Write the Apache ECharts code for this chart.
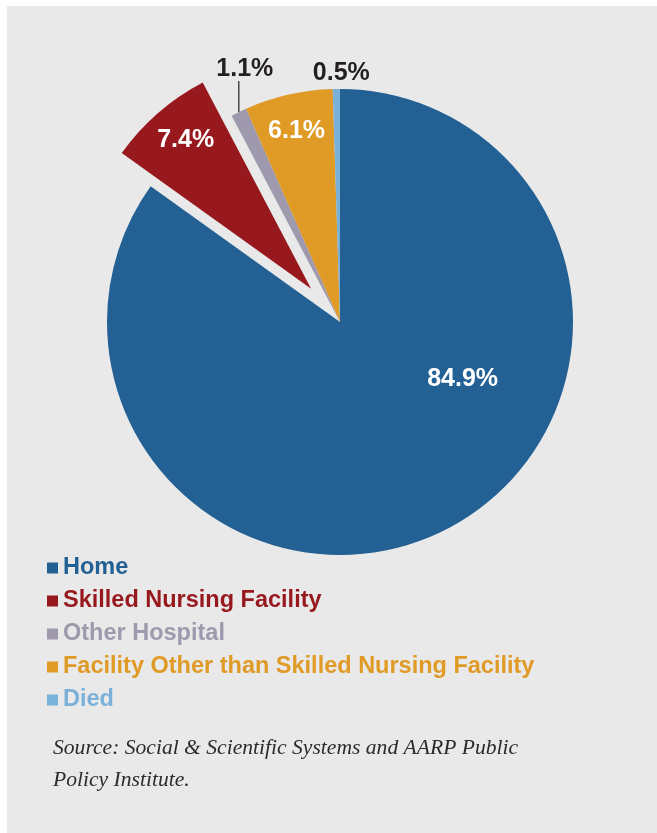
<!DOCTYPE html>
<html>
<head>
<meta charset="utf-8">
<script src="https://cdn.jsdelivr.net/npm/echarts@6/dist/echarts.min.js"></script>
<style>
  html, body { margin: 0; padding: 0; background: #ffffff; }
  #chart { position: absolute; left: 7px; top: 6px; width: 650px; height: 827px; background: #e9e9e9; }
</style>
</head>
<body>
<div id="chart"></div>
<script>
// data, clockwise from 12 o'clock
var categories = ['Home', 'Skilled Nursing Facility', 'Other Hospital', 'Facility Other than Skilled Nursing Facility', 'Died'];
var shares = [84.9, 7.4, 1.1, 6.1, 0.5];
var colors = ['#236093', '#97191e', '#9f99ad', '#e09a26', '#7ab1d8'];
var sourceNote = 'Source: Social & Scientific Systems and AARP Public\nPolicy Institute.';

var chart = echarts.init(document.getElementById('chart'));

// label nudges (px) from the library's default label spot
var labelNudge = [[68, -49], [0, 0], [0, 0], [-17, -74], [0, 0]];

function pct(p) { return p.value.toFixed(1) + '%'; }

var pieData = categories.map(function (name, i) {
  var inside = i !== 2 && i !== 4;
  var lbl = {
    position: inside ? 'inside' : 'outside',
    color: inside ? '#ffffff' : '#231f20'
  };
  // the exploded slice keeps its label on the select state,
  // so push it outward with padding and an empty spacer line
  if (i === 1) {
    lbl.padding = [0, 94, 0, 0];
    lbl.verticalAlign = 'middle';
    lbl.formatter = function (p) { return '{v|' + pct(p) + '}\n{g|}'; };
    lbl.rich = {
      v: { color: '#ffffff', fontFamily: 'Liberation Sans', fontWeight: 'bold', fontSize: 25, lineHeight: 30 },
      g: { height: 118 }
    };
  }
  return {
    name: name,
    value: shares[i],
    selected: i === 1,
    itemStyle: { color: colors[i] },
    label: lbl,
    labelLine: { show: i === 2 }
  };
});

var option = {
  animation: false,
  title: {
    text: sourceNote,
    left: 41,
    top: 721,
    textStyle: {
      fontFamily: 'Liberation Serif',
      fontStyle: 'italic',
      fontWeight: 'normal',
      fontSize: 21.6,
      lineHeight: 32,
      color: '#2b2b2b'
    }
  },
  legend: {
    orient: 'vertical',
    left: 35,
    top: 545,
    icon: 'rect',
    itemWidth: 11,
    itemHeight: 11,
    itemGap: 9,
    selectedMode: false,
    textStyle: {
      fontFamily: 'Liberation Sans',
      fontWeight: 'bold',
      fontSize: 23.5,
      lineHeight: 24
    },
    data: categories.map(function (name, i) {
      return { name: name, textStyle: { color: colors[i] } };
    })
  },
  series: [{
    type: 'pie',
    center: [333, 316],
    radius: [0, 233],
    startAngle: 90,
    clockwise: true,
    selectedMode: 'single',
    selectedOffset: 44,
    silent: true,
    avoidLabelOverlap: false,
    label: {
      show: true,
      formatter: pct,
      fontFamily: 'Liberation Sans',
      fontWeight: 'bold',
      fontSize: 25
    },
    labelLine: {
      length: 15,
      length2: 0,
      lineStyle: { color: '#231f20', width: 1.2 }
    },
    labelLayout: function (p) {
      var i = p.dataIndex;
      if (i === 1) return {};
      if (i === 2) {
        var a = p.labelLinePoints[0];
        return {
          x: a[0] + 6, y: a[1] - 43, align: 'center', verticalAlign: 'middle',
          labelLinePoints: [[a[0], a[1]], [a[0], a[1] - 15], [a[0], a[1] - 31]]
        };
      }
      if (i === 4) {
        return {
          x: p.rect.x + p.rect.width / 2 + 5, y: p.rect.y - 16,
          align: 'center', verticalAlign: 'middle'
        };
      }
      var n = labelNudge[i];
      return {
        x: p.labelRect.x + p.labelRect.width / 2 + n[0],
        y: p.labelRect.y + p.labelRect.height / 2 + n[1],
        align: 'center', verticalAlign: 'middle'
      };
    },
    data: pieData
  }]
};

chart.setOption(option);
</script>
</body>
</html>
